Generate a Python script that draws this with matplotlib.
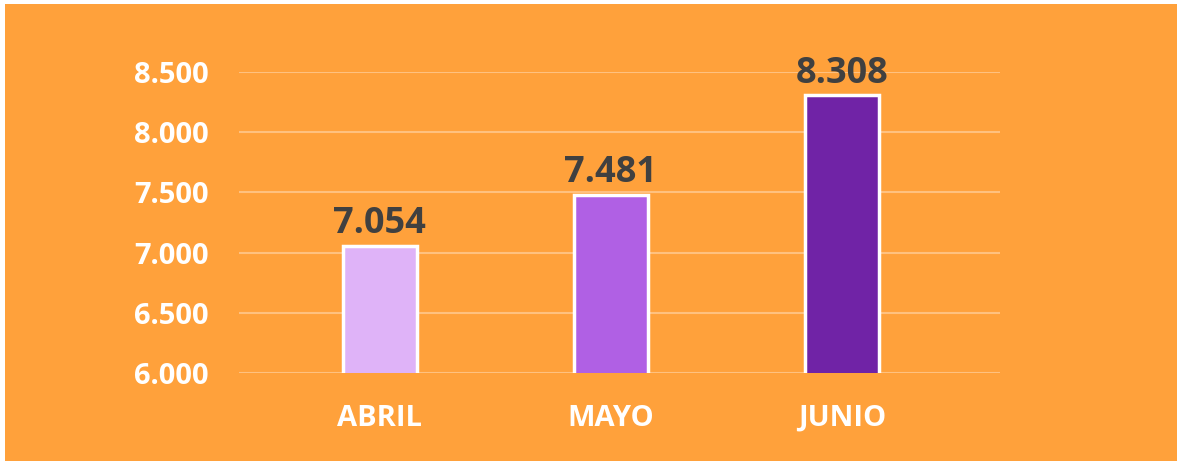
import numpy as np
import matplotlib.pyplot as plt
from matplotlib.patches import Rectangle

months = ['ABRIL', 'MAYO', 'JUNIO']
values = [7054, 7481, 8308]
labels = ['7.054', '7.481', '8.308']
yticks = [6000, 6500, 7000, 7500, 8000, 8500]
ytick_labels = ['6.000', '6.500', '7.000', '7.500', '8.000', '8.500']
colors = ['#DFB3F8', '#B060E4', '#7023A6']

bg = '#FFA13B'
W, H = 1177, 461

plt.rcParams['font.family'] = ['Open Sans', 'DejaVu Sans']

fig = plt.figure(figsize=(W/100, H/100), dpi=100, facecolor='white')
fig.patches.append(Rectangle((5/W, 0), 1, 1 - 4/H, transform=fig.transFigure,
                             facecolor=bg, edgecolor='none', zorder=-10))

ax = fig.add_axes([239/W, (H-373)/H, (1000-239)/W, (373-72)/H])
ax.set_facecolor('none')

x = np.arange(len(months))
bars = ax.bar(x, values, width=0.32, color=colors, edgecolor='white', linewidth=2.5, zorder=3)

for xi, v, lab in zip(x, values, labels):
    ax.text(xi, v + 30, lab, ha='center', va='bottom', fontsize=26, fontweight='bold',
            color='#404040', clip_on=False, zorder=4)

ax.set_ylim(6000, 8500)
ax.set_xlim(-0.61, 2.684)
ax.set_yticks(yticks)
ax.set_yticklabels(ytick_labels)
ax.set_xticks(x)
ax.set_xticklabels(months)
ax.tick_params(axis='both', length=0, labelsize=21, labelcolor='white')
ax.tick_params(axis='y', pad=22)
ax.tick_params(axis='x', pad=22)
for t in ax.get_xticklabels() + ax.get_yticklabels():
    t.set_fontweight('bold')

ax.grid(axis='y', color='white', alpha=0.35, linewidth=1.5, zorder=0)
for s in ax.spines.values():
    s.set_visible(False)

fig.savefig('out.png', dpi=100, facecolor='white')
